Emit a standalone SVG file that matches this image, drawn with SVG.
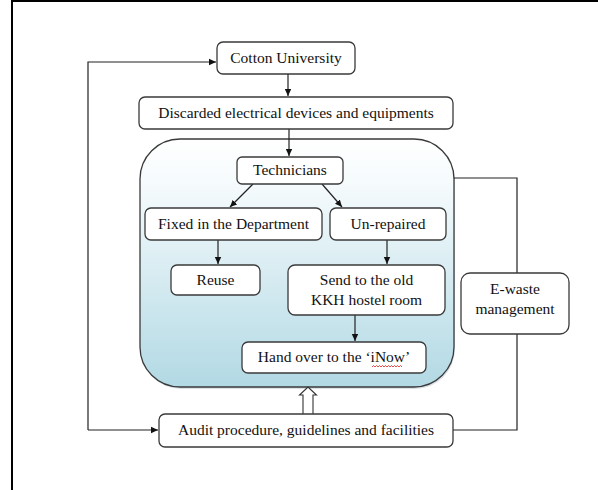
<svg xmlns="http://www.w3.org/2000/svg" width="598" height="490" viewBox="0 0 598 490">
<style>
.box{fill:#fff;stroke:#3a3a3a;stroke-width:1.3}
.t{font-family:'Liberation Serif','Times New Roman',serif;font-size:15.5px;fill:#111;text-anchor:middle}
.c{fill:none;stroke:#222;stroke-width:1.2}
</style>
<defs>
<linearGradient id="g" x1="0" y1="0" x2="0" y2="1">
<stop offset="0" stop-color="#ffffff"/>
<stop offset="0.2" stop-color="#f4fafc"/>
<stop offset="1" stop-color="#b2d9e4"/>
</linearGradient>
<marker id="a" markerWidth="8" markerHeight="8" refX="7" refY="4" orient="auto" markerUnits="userSpaceOnUse">
<path d="M0,0.8 L7,4 L0,7.2 Z" fill="#111"/>
</marker>
</defs>
<rect width="598" height="490" fill="#fff"/>
<path d="M11,1 H598 M12,0 V490" fill="none" stroke="#000" stroke-width="2"/>

<g id="container">
<rect x="141" y="141" width="314" height="248" rx="40" fill="#9ab" opacity="0.35"/>
<rect x="140" y="139" width="314" height="248" rx="40" fill="url(#g)" stroke="#3a3a3a" stroke-width="1.3"/>
</g>

<g id="connectors">
<path class="c" d="M288,74 V96" marker-end="url(#a)"/>
<path class="c" d="M289,129 V156" marker-end="url(#a)"/>
<path class="c" d="M253,184 L230,207" marker-end="url(#a)"/>
<path class="c" d="M322,184 L342,207" marker-end="url(#a)"/>
<path class="c" d="M218,240 V264" marker-end="url(#a)"/>
<path class="c" d="M387,240 V264" marker-end="url(#a)"/>
<path class="c" d="M355,315 V341" marker-end="url(#a)"/>
<path class="c" d="M88,430 V62 H216" marker-end="url(#a)"/>
<path class="c" d="M88,430 H158" marker-end="url(#a)"/>
<path class="c" d="M454,178 H517 V273 M517,334 V430 H453"/>
<path d="M303,414 V395 H299.5 L308,387 L316.5,395 H313 V414" fill="#fff" stroke="#333" stroke-width="1.1"/>
</g>

<g id="cotton">
<rect class="box" x="217" y="42" width="138" height="32" rx="6"/>
<text class="t" x="286" y="63">Cotton University</text>
</g>
<g id="discarded">
<rect class="box" x="139" y="97" width="314" height="32" rx="6"/>
<text class="t" x="296" y="118">Discarded electrical devices and equipments</text>
</g>
<g id="technicians">
<rect class="box" x="237" y="157" width="106" height="27" rx="5"/>
<text class="t" x="290" y="175">Technicians</text>
</g>
<g id="fixed">
<rect class="box" x="145" y="208" width="177" height="32" rx="6"/>
<text class="t" x="233.5" y="229">Fixed in the Department</text>
</g>
<g id="unrepaired">
<rect class="box" x="330" y="208" width="116" height="32" rx="6"/>
<text class="t" x="388" y="229">Un-repaired</text>
</g>
<g id="reuse">
<rect class="box" x="171" y="265" width="89" height="30" rx="6"/>
<text class="t" x="215.5" y="285">Reuse</text>
</g>
<g id="send">
<rect class="box" x="288" y="265" width="157" height="50" rx="7"/>
<text class="t" x="366.5" y="285">Send to the old</text>
<text class="t" x="366.5" y="305">KKH hostel room</text>
</g>
<g id="handover">
<rect class="box" x="242" y="342" width="184" height="31" rx="6"/>
<text class="t" x="334" y="362">Hand over to the ‘iNow’</text>
<path d="M372,367 l1.5,-1.5 l1.5,1.5 l1.5,-1.5 l1.5,1.5 l1.5,-1.5 l1.5,1.5 l1.5,-1.5 l1.5,1.5 l1.5,-1.5 l1.5,1.5 l1.5,-1.5 l1.5,1.5 l1.5,-1.5 l1.5,1.5 l1.5,-1.5 l1.5,1.5 l1.5,-1.5 l1.5,1.5 l1.5,-1.5 l1.5,1.5" fill="none" stroke="#e02020" stroke-width="0.8"/>
</g>
<g id="ewaste">
<rect class="box" x="461" y="273" width="108" height="61" rx="9"/>
<text class="t" x="515" y="294">E-waste</text>
<text class="t" x="515" y="314">management</text>
</g>
<g id="audit">
<rect class="box" x="159" y="414" width="294" height="33" rx="6"/>
<text class="t" x="306" y="435">Audit procedure, guidelines and facilities</text>
</g>
</svg>
